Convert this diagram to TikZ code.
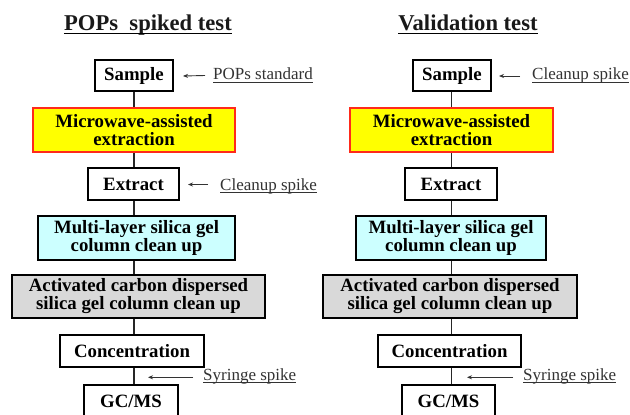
\documentclass[tikz,border=0pt]{standalone}
\usepackage{fontspec}
\setmainfont{Liberation Serif}
\usetikzlibrary{arrows.meta}
\definecolor{fillyellow}{HTML}{FFFF00}
\definecolor{fillcyan}{HTML}{CCFFFF}
\definecolor{fillgray}{HTML}{D9D9D9}
\definecolor{edgered}{HTML}{FF2A1A}
\definecolor{notegray}{HTML}{333333}

\begin{document}
\begin{tikzpicture}[x=1pt,y=-1pt,
  stagebox/.style={draw=black, line width=1.3pt, inner sep=0pt, align=center,
    font=\bfseries\fontsize{18.8}{18}\selectfont, text=black},
  yellowbox/.style={stagebox, fill=fillyellow, draw=edgered, line width=2pt},
  cyanbox/.style={stagebox, fill=fillcyan},
  graybox/.style={stagebox, fill=fillgray},
  plainbox/.style={stagebox, fill=white},
  flowline/.style={draw=black!85, line width=1.3pt},
  spikearrow/.style={draw=notegray, line width=0.9pt, -{Stealth[length=5pt,width=4pt]}},
  heading/.style={font=\bfseries\fontsize{22.6}{24}\selectfont, inner sep=0pt, anchor=base, text=black!90},
  note/.style={font=\fontsize{17}{18}\selectfont, inner sep=0pt, anchor=base west, text=notegray},
  underlined/.style={draw=notegray, line width=0.8pt}
]
\useasboundingbox (0,0) rectangle (630,415);
\fill[white] (0,0) rectangle (630,415);
\clip (0,0) rectangle (630,415);

% ---------- left column: POPs spiked test ----------
\node[heading] (headL) at (148,30.5) {POPs\ \ spiked test};
\draw[line width=1pt] ([yshift=-3pt]headL.base west) -- ([yshift=-3pt]headL.base east);

\coordinate (spineL) at (134,0);
\node[plainbox, minimum width=78pt, minimum height=31pt] (sampleL) at (134,75.5) {Sample};
\node[yellowbox, minimum width=202pt, minimum height=44pt] (mwL) at (134,130) {Microwave-assisted\\extraction};
\node[plainbox, minimum width=91pt, minimum height=32pt] (exL) at (133.5,184) {Extract};
\node[cyanbox, minimum width=197pt, minimum height=44pt] (mlL) at (136.5,238) {Multi-layer silica gel\\column clean up};
\node[graybox, minimum width=253pt, minimum height=43pt] (acL) at (138.5,296.5) {Activated carbon dispersed\\silica gel column clean up};
\node[plainbox, minimum width=144pt, minimum height=32pt] (coL) at (132,351) {Concentration};
\node[plainbox, minimum width=94pt, minimum height=44pt, text depth=12pt] (gcL) at (131,407) {GC/MS};

\draw[flowline] (sampleL.south -| spineL) -- (mwL.north -| spineL);
\draw[flowline] (mwL.south -| spineL) -- (exL.north -| spineL);
\draw[flowline] (exL.south -| spineL) -- (mlL.north -| spineL);
\draw[flowline] (mlL.south -| spineL) -- (acL.north -| spineL);
\draw[flowline] (acL.south -| spineL) -- (coL.north -| spineL);
\draw[flowline] (coL.south -| spineL) -- (gcL.north -| spineL);

\node[note] (stdL) at (213,79.5) {POPs standard};
\draw[underlined] ([yshift=-2.5pt]stdL.base west) -- ([yshift=-2.5pt]stdL.base east);
\coordinate (stdTipL) at (183,76);
\draw[spikearrow] ([xshift=-8pt,yshift=4pt]stdL.base west) -- (stdTipL);

\node[note] (cleanL) at (220,190) {Cleanup spike};
\draw[underlined] ([yshift=-2.5pt]cleanL.base west) -- ([yshift=-2.5pt]cleanL.base east);
\coordinate (cleanTipL) at (188,184.5);
\draw[spikearrow] ([xshift=-12pt,yshift=5.5pt]cleanL.base west) -- (cleanTipL);

\node[note] (syrL) at (203,380) {Syringe spike};
\draw[underlined] ([yshift=-2.5pt]syrL.base west) -- ([yshift=-2.5pt]syrL.base east);
\coordinate (syrTipL) at (148,377.3);
\draw[spikearrow] ([xshift=-10pt,yshift=2.7pt]syrL.base west) -- (syrTipL);

% ---------- right column: Validation test ----------
\node[heading] (headR) at (468,30.5) {Validation test};
\draw[line width=1pt] ([yshift=-3pt]headR.base west) -- ([yshift=-3pt]headR.base east);

\coordinate (spineR) at (451.5,0);
\node[plainbox, minimum width=78pt, minimum height=31pt] (sampleR) at (452,75.5) {Sample};
\node[yellowbox, minimum width=203pt, minimum height=44pt] (mwR) at (451.5,130) {Microwave-assisted\\extraction};
\node[plainbox, minimum width=92pt, minimum height=32pt] (exR) at (451,184) {Extract};
\node[cyanbox, minimum width=190pt, minimum height=44pt] (mlR) at (451,238) {Multi-layer silica gel\\column clean up};
\node[graybox, minimum width=254pt, minimum height=43pt] (acR) at (450,296.5) {Activated carbon dispersed\\silica gel column clean up};
\node[plainbox, minimum width=143pt, minimum height=32pt] (coR) at (449.5,351) {Concentration};
\node[plainbox, minimum width=93pt, minimum height=44pt, text depth=12pt] (gcR) at (448.5,407) {GC/MS};

\draw[flowline] (sampleR.south -| spineR) -- (mwR.north -| spineR);
\draw[flowline] (mwR.south -| spineR) -- (exR.north -| spineR);
\draw[flowline] (exR.south -| spineR) -- (mlR.north -| spineR);
\draw[flowline] (mlR.south -| spineR) -- (acR.north -| spineR);
\draw[flowline] (acR.south -| spineR) -- (coR.north -| spineR);
\draw[flowline] (coR.south -| spineR) -- (gcR.north -| spineR);

\node[note] (cleanR) at (532,79.5) {Cleanup spike};
\draw[underlined] ([yshift=-2.5pt]cleanR.base west) -- ([yshift=-2.5pt]cleanR.base east);
\coordinate (cleanTipR) at (499,76);
\draw[spikearrow] ([xshift=-12pt,yshift=3.5pt]cleanR.base west) -- (cleanTipR);

\node[note] (syrR) at (523,380) {Syringe spike};
\draw[underlined] ([yshift=-2.5pt]syrR.base west) -- ([yshift=-2.5pt]syrR.base east);
\coordinate (syrTipR) at (467,377.3);
\draw[spikearrow] ([xshift=-10pt,yshift=2.7pt]syrR.base west) -- (syrTipR);
\end{tikzpicture}
\end{document}
